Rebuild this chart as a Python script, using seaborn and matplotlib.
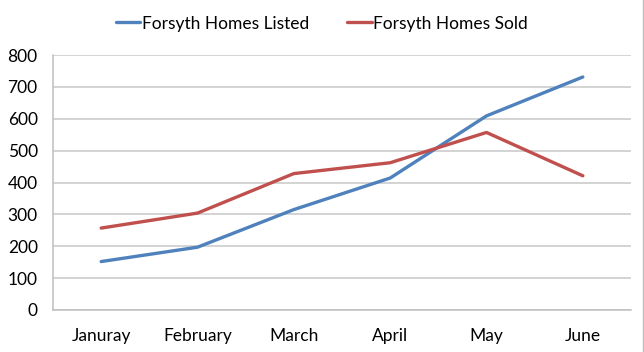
import matplotlib
matplotlib.use("Agg")
import matplotlib.pyplot as plt
import seaborn as sns
import pandas as pd
from matplotlib.lines import Line2D

months = ["Januray", "February", "March", "April", "May", "June"]
listed = [152, 197, 315, 414, 609, 731]
sold = [257, 304, 428, 462, 557, 421]
series_names = ["Forsyth Homes Listed", "Forsyth Homes Sold"]
y_ticks = [0, 100, 200, 300, 400, 500, 600, 700, 800]

sns.set_theme(style="white")
plt.rcParams["font.family"] = ["Lato", "DejaVu Sans"]

df = pd.DataFrame({
    "month": months * 2,
    "value": listed + sold,
    "series": [series_names[0]] * len(months) + [series_names[1]] * len(months),
})
df["x"] = list(range(len(months))) * 2

fig = plt.figure(figsize=(6.44, 3.52), dpi=100)
ax = fig.add_axes([53 / 644, 1 - 310 / 352, (631 - 53) / 644, (310 - 55) / 352])

palette = {series_names[0]: "#4F81BD", series_names[1]: "#C0504D"}
sns.lineplot(data=df, x="x", y="value", hue="series", palette=palette,
             linewidth=2.4, ax=ax, legend=False, sort=False)

ax.set_xlim(-0.5, len(months) - 0.5)
ax.set_ylim(0, 800)
ax.set_yticks(y_ticks)
ax.set_yticklabels([str(v) for v in y_ticks], fontsize=12.5, color="black")
ax.set_xticks(range(len(months)))
ax.set_xticklabels(months, fontsize=12.5, color="black")
ax.set_xticks([i - 0.5 for i in range(len(months) + 1)], minor=True)
ax.tick_params(axis="x", which="major", length=0, pad=13)
ax.tick_params(axis="x", which="minor", length=5, color="#BFBFBF", width=1, direction="out")
ax.tick_params(axis="y", which="major", length=5, color="#BFBFBF", width=1, direction="out", pad=6)
ax.set_xlabel("")
ax.set_ylabel("")
ax.yaxis.grid(True, color="#C8C8C8", linewidth=1.1)
ax.set_axisbelow(True)
for s in ["top", "right"]:
    ax.spines[s].set_visible(False)
for s in ["left", "bottom"]:
    ax.spines[s].set_color("#BFBFBF")
    ax.spines[s].set_linewidth(1.1)

handles = [Line2D([0], [0], color=palette[n], linewidth=2.4) for n in series_names]
fig.legend(handles, series_names, loc="center", bbox_to_anchor=(0.5, 1 - 23.5 / 352),
           ncol=2, frameon=False, fontsize=12.5, handlelength=1.4, handletextpad=0.1,
           columnspacing=2.2, labelcolor="black")

fig.add_artist(Line2D([642.5 / 644, 642.5 / 644], [0, 1], color="#BFBFBF", linewidth=1,
                      transform=fig.transFigure))

fig.savefig("out.png", dpi=100)
